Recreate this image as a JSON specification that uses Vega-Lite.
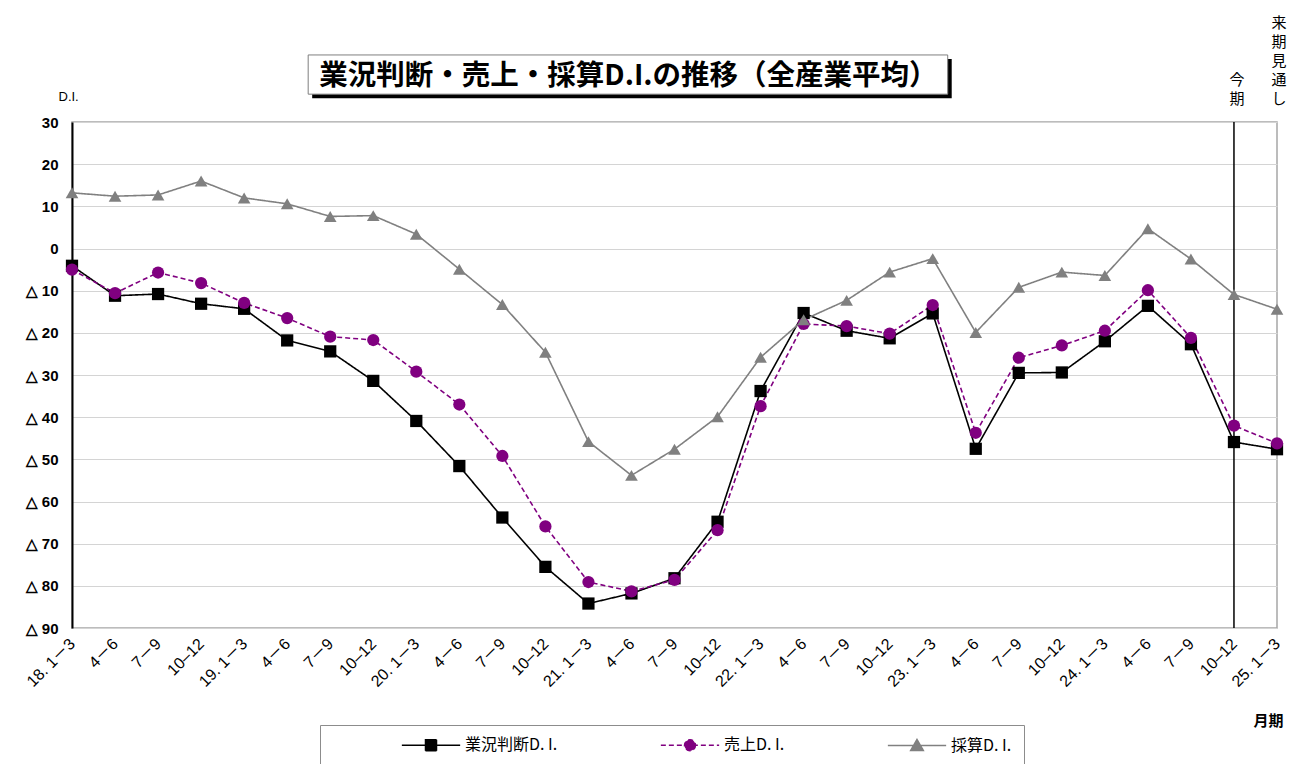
{
  "$schema": "https://vega.github.io/schema/vega-lite/v6.json",
  "autosize": {"type": "none"},
  "width": 1205,
  "height": 506,
  "padding": {"left": 72, "top": 122, "right": 26, "bottom": 136},
  "background": "#ffffff",
  "config": {
    "view": {"stroke": "#a6a6a6", "strokeWidth": 1.5},
    "font": "Liberation Sans"
  },
  "datasets": {
    "di": [
      {"q": "18-1", "series": "業況判断D. I.", "v": -4.1},
      {"q": "18-2", "series": "業況判断D. I.", "v": -11.2},
      {"q": "18-3", "series": "業況判断D. I.", "v": -10.8},
      {"q": "18-4", "series": "業況判断D. I.", "v": -13.1},
      {"q": "19-1", "series": "業況判断D. I.", "v": -14.3},
      {"q": "19-2", "series": "業況判断D. I.", "v": -21.8},
      {"q": "19-3", "series": "業況判断D. I.", "v": -24.4},
      {"q": "19-4", "series": "業況判断D. I.", "v": -31.4},
      {"q": "20-1", "series": "業況判断D. I.", "v": -40.9},
      {"q": "20-2", "series": "業況判断D. I.", "v": -51.6},
      {"q": "20-3", "series": "業況判断D. I.", "v": -63.8},
      {"q": "20-4", "series": "業況判断D. I.", "v": -75.5},
      {"q": "21-1", "series": "業況判断D. I.", "v": -84.2},
      {"q": "21-2", "series": "業況判断D. I.", "v": -81.8},
      {"q": "21-3", "series": "業況判断D. I.", "v": -78.2},
      {"q": "21-4", "series": "業況判断D. I.", "v": -64.8},
      {"q": "22-1", "series": "業況判断D. I.", "v": -33.8},
      {"q": "22-2", "series": "業況判断D. I.", "v": -15.3},
      {"q": "22-3", "series": "業況判断D. I.", "v": -19.5},
      {"q": "22-4", "series": "業況判断D. I.", "v": -21.3},
      {"q": "23-1", "series": "業況判断D. I.", "v": -15.4},
      {"q": "23-2", "series": "業況判断D. I.", "v": -47.5},
      {"q": "23-3", "series": "業況判断D. I.", "v": -29.5},
      {"q": "23-4", "series": "業況判断D. I.", "v": -29.4},
      {"q": "24-1", "series": "業況判断D. I.", "v": -22.0},
      {"q": "24-2", "series": "業況判断D. I.", "v": -13.6},
      {"q": "24-3", "series": "業況判断D. I.", "v": -22.7},
      {"q": "24-4", "series": "業況判断D. I.", "v": -45.9},
      {"q": "25-1", "series": "業況判断D. I.", "v": -47.6},
      {"q": "18-1", "series": "売上D. I.", "v": -5.0},
      {"q": "18-2", "series": "売上D. I.", "v": -10.6},
      {"q": "18-3", "series": "売上D. I.", "v": -5.7},
      {"q": "18-4", "series": "売上D. I.", "v": -8.2},
      {"q": "19-1", "series": "売上D. I.", "v": -12.9},
      {"q": "19-2", "series": "売上D. I.", "v": -16.5},
      {"q": "19-3", "series": "売上D. I.", "v": -20.9},
      {"q": "19-4", "series": "売上D. I.", "v": -21.7},
      {"q": "20-1", "series": "売上D. I.", "v": -29.2},
      {"q": "20-2", "series": "売上D. I.", "v": -37.0},
      {"q": "20-3", "series": "売上D. I.", "v": -49.2},
      {"q": "20-4", "series": "売上D. I.", "v": -65.9},
      {"q": "21-1", "series": "売上D. I.", "v": -79.1},
      {"q": "21-2", "series": "売上D. I.", "v": -81.3},
      {"q": "21-3", "series": "売上D. I.", "v": -78.6},
      {"q": "21-4", "series": "売上D. I.", "v": -66.8},
      {"q": "22-1", "series": "売上D. I.", "v": -37.4},
      {"q": "22-2", "series": "売上D. I.", "v": -17.9},
      {"q": "22-3", "series": "売上D. I.", "v": -18.4},
      {"q": "22-4", "series": "売上D. I.", "v": -20.2},
      {"q": "23-1", "series": "売上D. I.", "v": -13.4},
      {"q": "23-2", "series": "売上D. I.", "v": -43.7},
      {"q": "23-3", "series": "売上D. I.", "v": -25.9},
      {"q": "23-4", "series": "売上D. I.", "v": -23.0},
      {"q": "24-1", "series": "売上D. I.", "v": -19.5},
      {"q": "24-2", "series": "売上D. I.", "v": -9.9},
      {"q": "24-3", "series": "売上D. I.", "v": -21.2},
      {"q": "24-4", "series": "売上D. I.", "v": -42.0},
      {"q": "25-1", "series": "売上D. I.", "v": -46.2},
      {"q": "18-1", "series": "採算D. I.", "v": 13.2},
      {"q": "18-2", "series": "採算D. I.", "v": 12.4},
      {"q": "18-3", "series": "採算D. I.", "v": 12.7},
      {"q": "18-4", "series": "採算D. I.", "v": 16.0},
      {"q": "19-1", "series": "採算D. I.", "v": 12.0},
      {"q": "19-2", "series": "採算D. I.", "v": 10.6},
      {"q": "19-3", "series": "採算D. I.", "v": 7.6},
      {"q": "19-4", "series": "採算D. I.", "v": 7.8},
      {"q": "20-1", "series": "採算D. I.", "v": 3.4},
      {"q": "20-2", "series": "採算D. I.", "v": -4.9},
      {"q": "20-3", "series": "採算D. I.", "v": -13.3},
      {"q": "20-4", "series": "採算D. I.", "v": -24.6},
      {"q": "21-1", "series": "採算D. I.", "v": -45.8},
      {"q": "21-2", "series": "採算D. I.", "v": -53.8},
      {"q": "21-3", "series": "採算D. I.", "v": -47.6},
      {"q": "21-4", "series": "採算D. I.", "v": -39.9},
      {"q": "22-1", "series": "採算D. I.", "v": -25.8},
      {"q": "22-2", "series": "採算D. I.", "v": -16.9},
      {"q": "22-3", "series": "採算D. I.", "v": -12.3},
      {"q": "22-4", "series": "採算D. I.", "v": -5.6},
      {"q": "23-1", "series": "採算D. I.", "v": -2.4},
      {"q": "23-2", "series": "採算D. I.", "v": -19.9},
      {"q": "23-3", "series": "採算D. I.", "v": -9.2},
      {"q": "23-4", "series": "採算D. I.", "v": -5.6},
      {"q": "24-1", "series": "採算D. I.", "v": -6.4},
      {"q": "24-2", "series": "採算D. I.", "v": 4.7},
      {"q": "24-3", "series": "採算D. I.", "v": -2.5},
      {"q": "24-4", "series": "採算D. I.", "v": -10.9},
      {"q": "25-1", "series": "採算D. I.", "v": -14.4}
    ],
    "notes": [
      {"q": "24-4", "t": ["今", "期"], "v": 33.6},
      {"q": "25-1", "t": ["来", "期", "見", "通", "し"], "v": 33.6}
    ],
    "heading": [
      {"text": "業況判断・売上・採算D.I.の推移（全産業平均）", "from": "19-2", "to": "23-1", "mid": "21-1", "top": 45.9, "bottom": 36.6, "center": 40.8}
    ]
  },
  "encoding": {
    "x": {
      "field": "q",
      "type": "ordinal",
      "sort": null,
      "scale": {
        "type": "point",
        "padding": 0,
        "domain": ["18-1", "18-2", "18-3", "18-4", "19-1", "19-2", "19-3", "19-4", "20-1", "20-2", "20-3", "20-4", "21-1", "21-2", "21-3", "21-4", "22-1", "22-2", "22-3", "22-4", "23-1", "23-2", "23-3", "23-4", "24-1", "24-2", "24-3", "24-4", "25-1"]
      },
      "axis": {
        "domain": false,
        "ticks": false,
        "grid": false,
        "labelAngle": -45,
        "labelAlign": "right",
        "labelBaseline": "middle",
        "labelPadding": 13,
        "labelFont": "Liberation Sans, Noto Sans CJK JP",
        "labelFontSize": 16,
        "labelColor": "#000000",
        "labelExpr": "slice(datum.value, 3) == '1' ? slice(datum.value, 0, 2) + '. 1－3' : slice(datum.value, 3) == '2' ? '4－6' : slice(datum.value, 3) == '3' ? '7－9' : '10–12'",
        "title": "月期",
        "titleX": 1181,
        "titleY": 92,
        "titleAlign": "left",
        "titleBaseline": "middle",
        "titleFont": "Noto Sans CJK JP",
        "titleFontSize": 15,
        "titleFontWeight": "bold",
        "titleColor": "#000000"
      }
    }
  },
  "layer": [
    {
      "data": {"name": "heading"},
      "mark": {"type": "rect", "color": "#000000", "xOffset": 25, "x2Offset": 19, "yOffset": 4, "y2Offset": 4, "clip": false},
      "encoding": {
        "x": {"field": "from", "type": "ordinal"},
        "x2": {"field": "to"},
        "y": {"field": "top", "type": "quantitative"},
        "y2": {"field": "bottom"}
      }
    },
    {
      "data": {"name": "heading"},
      "mark": {"type": "rect", "fill": "#ffffff", "stroke": "#7f7f7f", "strokeWidth": 1, "xOffset": 21, "x2Offset": 15, "clip": false},
      "encoding": {
        "x": {"field": "from", "type": "ordinal"},
        "x2": {"field": "to"},
        "y": {"field": "top", "type": "quantitative"},
        "y2": {"field": "bottom"}
      }
    },
    {
      "data": {"name": "heading"},
      "mark": {
        "type": "text",
        "font": "Noto Sans CJK JP",
        "fontSize": 28.5,
        "fontWeight": "bold",
        "align": "center",
        "baseline": "middle",
        "dx": 40,
        "color": "#000000",
        "clip": false
      },
      "encoding": {
        "x": {"field": "mid", "type": "ordinal"},
        "y": {"field": "center", "type": "quantitative"},
        "text": {"field": "text"}
      }
    },
    {
      "data": {"name": "notes"},
      "mark": {"type": "rule", "color": "#000000", "strokeWidth": 1.5},
      "transform": [{"filter": "datum.q == '24-4'"}],
      "encoding": {}
    },
    {
      "data": {"name": "di"},
      "mark": {"type": "line", "strokeWidth": 1.6},
      "encoding": {
        "y": {
          "field": "v",
          "type": "quantitative",
          "scale": {"domain": [-90, 30], "nice": false, "zero": false},
          "axis": {
            "values": [30, 20, 10, 0, -10, -20, -30, -40, -50, -60, -70, -80, -90],
            "domain": true,
            "domainColor": "#000000",
            "domainWidth": 2,
            "ticks": false,
            "grid": true,
            "gridColor": "#d4d4d4",
            "gridWidth": 1.2,
            "labelExpr": "datum.value < 0 ? '△ ' + (-datum.value) : '' + datum.value",
            "labelFont": "Liberation Sans",
            "labelFontSize": 15,
            "labelFontWeight": "bold",
            "labelColor": "#000000",
            "labelPadding": 14,
            "title": "D.I.",
            "titleAngle": 0,
            "titleX": -14,
            "titleY": -26,
            "titleAlign": "left",
            "titleBaseline": "middle",
            "titleFont": "Liberation Sans",
            "titleFontSize": 13,
            "titleFontWeight": "normal",
            "titleColor": "#000000"
          }
        },
        "color": {
          "field": "series",
          "type": "nominal",
          "sort": ["業況判断D. I.", "売上D. I.", "採算D. I."],
          "scale": {"domain": ["業況判断D. I.", "売上D. I.", "採算D. I."], "range": ["#000000", "#800080", "#808080"]},
          "legend": {
            "orient": "none",
            "legendX": 248,
            "legendY": 603,
            "direction": "horizontal",
            "title": null,
            "padding": 12,
            "strokeColor": "#8c8c8c",
            "fillColor": "#ffffff",
            "symbolSize": 121,
            "symbolStrokeWidth": 1.5,
            "symbolType": {"expr": "datum.value == '業況判断D. I.' ? 'M-5.3,0H5.3M-1,-1H1V1H-1Z' : datum.value == '売上D. I.' ? 'M-5.3,0H5.3M1,0A1,1 0 1,1 -1,0A1,1 0 1,1 1,0Z' : 'M-5.3,0H5.3M0,-1.1L1.15,0.9L-1.15,0.9Z'"},
            "symbolFillColor": {"expr": "datum.value == '業況判断D. I.' ? '#000000' : datum.value == '売上D. I.' ? '#800080' : '#808080'"},
            "symbolDash": {"expr": "datum.value == '売上D. I.' ? [4, 3] : [1, 0]"},
            "symbolOffset": 91,
            "labelOffset": 26,
            "columnPadding": 33,
            "labelFont": "Noto Sans CJK JP",
            "labelFontSize": 16,
            "labelColor": "#000000",
            "labelLimit": 400,
            "labelExpr": "indexof(datum.label, '採算') >= 0 ? datum.label + '\u3000\u3000\u3000\u3000\u3000' : datum.label"
          }
        },
        "strokeDash": {
          "field": "series",
          "type": "nominal",
          "scale": {"domain": ["業況判断D. I.", "売上D. I.", "採算D. I."], "range": [[1, 0], [5, 3], [1, 0]]},
          "legend": null
        }
      }
    },
    {
      "data": {"name": "di"},
      "transform": [{"filter": "datum.series == '業況判断D. I.'"}],
      "mark": {"type": "point", "shape": "square", "filled": true, "opacity": 1, "size": 150, "color": "#000000"},
      "encoding": {"y": {"field": "v", "type": "quantitative"}}
    },
    {
      "data": {"name": "di"},
      "transform": [{"filter": "datum.series == '売上D. I.'"}],
      "mark": {"type": "point", "shape": "circle", "filled": true, "opacity": 1, "size": 150, "color": "#800080"},
      "encoding": {"y": {"field": "v", "type": "quantitative"}}
    },
    {
      "data": {"name": "di"},
      "transform": [{"filter": "datum.series == '採算D. I.'"}],
      "mark": {"type": "point", "shape": "triangle-up", "filled": true, "opacity": 1, "size": 160, "color": "#808080"},
      "encoding": {"y": {"field": "v", "type": "quantitative"}}
    },
    {
      "data": {"name": "notes"},
      "transform": [{"filter": "datum.q == '24-4'"}],
      "mark": {
        "type": "text",
        "baseline": "bottom",
        "align": "center",
        "dx": 3,
        "dy": -19,
        "font": "Noto Sans CJK JP",
        "fontSize": 15,
        "lineHeight": 19,
        "color": "#000000",
        "clip": false
      },
      "encoding": {
        "y": {"field": "v", "type": "quantitative"},
        "text": {"field": "t"}
      }
    },
    {
      "data": {"name": "notes"},
      "transform": [{"filter": "datum.q == '25-1'"}],
      "mark": {
        "type": "text",
        "baseline": "bottom",
        "align": "center",
        "dx": 2,
        "dy": -76,
        "font": "Noto Sans CJK JP",
        "fontSize": 15,
        "lineHeight": 19,
        "color": "#000000",
        "clip": false
      },
      "encoding": {
        "y": {"field": "v", "type": "quantitative"},
        "text": {"field": "t"}
      }
    },
    {
      "mark": {"type": "rule", "color": "#000000", "strokeWidth": 2},
      "encoding": {"x": null, "y": {"datum": 0, "type": "quantitative"}}
    }
  ]
}
